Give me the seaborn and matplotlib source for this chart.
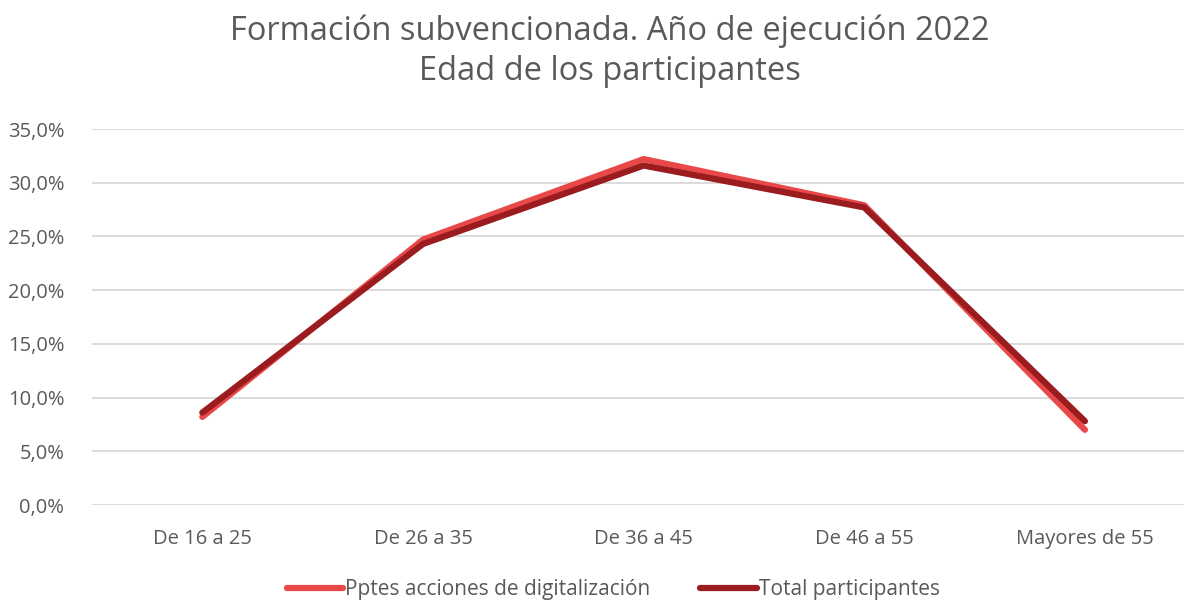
import matplotlib
matplotlib.use("Agg")
import matplotlib.pyplot as plt
import seaborn as sns
import pandas as pd
from matplotlib.ticker import FuncFormatter
from matplotlib.lines import Line2D

categories = ["De 16 a 25", "De 26 a 35", "De 36 a 45", "De 46 a 55", "Mayores de 55"]
pptes_digitalizacion = [8.2, 24.7, 32.2, 27.9, 7.0]
total_participantes = [8.6, 24.3, 31.6, 27.7, 7.8]
series_names = ["Pptes acciones de digitalización", "Total participantes"]
colors = ["#E84848", "#9A1C1F"]

df = pd.DataFrame({
    "cat": categories * 2,
    "x": list(range(len(categories))) * 2,
    "val": pptes_digitalizacion + total_participantes,
    "serie": [series_names[0]] * len(categories) + [series_names[1]] * len(categories),
})

sns.set_theme(style="white")
plt.rcParams["font.family"] = ["Open Sans", "DejaVu Sans"]

fig = plt.figure(figsize=(11.84, 6), dpi=100)
ax = fig.add_axes([92 / 1184, 95 / 600, 1 - 92 / 1184, (505 - 129) / 600])

sns.lineplot(data=df, x="x", y="val", hue="serie", palette=colors, ax=ax,
             linewidth=4.5, solid_capstyle="round", legend=False, sort=False)

ax.set_ylim(0, 35)
ax.set_yticks([0, 5, 10, 15, 20, 25, 30, 35])
ax.yaxis.set_major_formatter(FuncFormatter(lambda v, p: f"{v:.1f}".replace(".", ",") + "%"))
ax.set_xlim(-0.5, 4.449)
ax.set_xticks(range(len(categories)))
ax.set_xticklabels(categories)
ax.grid(axis="y", color="#D9D9D9", linewidth=1.3)
ax.set_axisbelow(True)
for s in ax.spines.values():
    s.set_visible(False)
ax.tick_params(axis="both", length=0, colors="#595959")
ax.tick_params(axis="x", labelsize=14.5, pad=17)
ax.tick_params(axis="y", labelsize=14.5, pad=20)
ax.set_xlabel("")
ax.set_ylabel("")

fig.text(0.515, 0.975, "Formación subvencionada. Año de ejecución 2022\nEdad de los participantes",
         ha="center", va="top", fontsize=23.5, color="#595959", linespacing=1.25)

handles = [Line2D([0], [0], color=c, linewidth=4.5, solid_capstyle="round") for c in colors]
fig.legend(handles, series_names, loc="center", bbox_to_anchor=(0.518, 0.017), ncol=2,
           frameon=False, fontsize=15, labelcolor="#595959", handlelength=2.7,
           handletextpad=0.1, columnspacing=2.4)

fig.savefig("out.png", dpi=100, facecolor="white")
